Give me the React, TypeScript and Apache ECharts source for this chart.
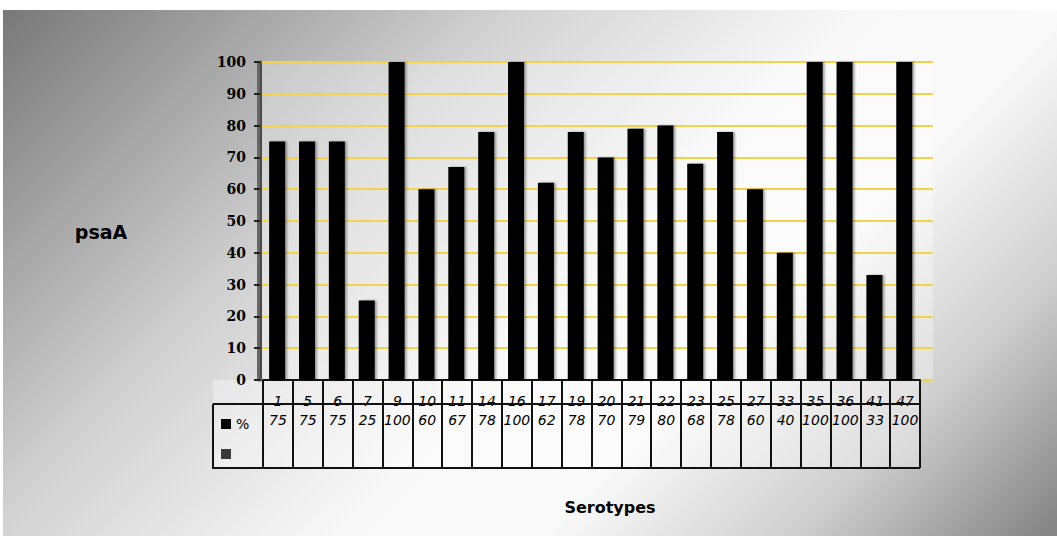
import React, { useEffect, useRef } from "react";
import * as echarts from "echarts";

const categories = ["1", "5", "6", "7", "9", "10", "11", "14", "16", "17", "19", "20", "21", "22", "23", "25", "27", "33", "35", "36", "41", "47"];
const values = [75, 75, 75, 25, 100, 60, 67, 78, 100, 62, 78, 70, 79, 80, 68, 78, 60, 40, 100, 100, 33, 100];
const seriesName = "%";
const yTicks = { min: 0, max: 100, interval: 10 };
const yName = "psaA";
const xName = "Serotypes";

export default function App() {
  const ref = useRef<HTMLDivElement>(null);
  useEffect(() => {
    document.body.style.margin = "0";
    const chart = echarts.init(ref.current!, null, { renderer: "svg" });
    const bg = new echarts.graphic.LinearGradient(0, 0, 790, 790, [
      { offset: 0, color: "#767676" },
      { offset: 0.33, color: "#d2d2d2" },
      { offset: 0.55, color: "#f8f8f8" },
      { offset: 0.68, color: "#fafafa" },
      { offset: 0.84, color: "#cfcfcf" },
      { offset: 1, color: "#858585" },
    ], true);
    chart.setOption({
      animation: false,
      graphic: [
        { type: "rect", z: -10, silent: true, shape: { x: 3, y: 10, width: 1054, height: 526 }, style: { fill: bg } },
        { type: "rect", z: -5, silent: true, shape: { x: 213, y: 380, width: 706, height: 88 }, style: { fill: "rgba(255,255,255,0.35)" } },
        { type: "line", z: 5, shape: { x1: 213, y1: 404, x2: 920, y2: 404 }, style: { stroke: "#111", lineWidth: 2 } },
        { type: "line", z: 5, shape: { x1: 212, y1: 468, x2: 920, y2: 468 }, style: { stroke: "#111", lineWidth: 2 } },
        { type: "line", z: 5, shape: { x1: 213, y1: 404, x2: 213, y2: 469 }, style: { stroke: "#111", lineWidth: 2 } },
        { type: "text", x: 101, y: 232, style: { text: yName, fontSize: 19, fontWeight: "bold", fontFamily: "DejaVu Sans", fill: "#000", align: "center", verticalAlign: "middle" } },
        { type: "text", x: 610, y: 507, style: { text: xName, fontSize: 16, fontWeight: "bold", fontFamily: "DejaVu Sans", fill: "#000", align: "center", verticalAlign: "middle" } },
      ],
      legend: {
        orient: "vertical",
        left: 216,
        top: 412,
        itemWidth: 10,
        itemHeight: 10,
        itemGap: 16,
        icon: "rect",
        data: [seriesName, " "],
        textStyle: { fontSize: 14, lineHeight: 14, color: "#000", fontFamily: "DejaVu Sans" },
      },
      grid: [
        { left: 263, right: 137, top: 62, bottom: 156 },
        { left: 258, right: 124, top: 62, bottom: 156, show: true, backgroundColor: "rgba(255,255,255,0.3)", borderWidth: 0 },
      ],
      xAxis: [
        {
          type: "category",
          gridIndex: 0,
          data: categories,
          axisLine: { show: true, lineStyle: { color: "#111", width: 2 } },
          axisTick: { show: true, length: 88, interval: 0, alignWithLabel: false, lineStyle: { color: "#111", width: 2 } },
          axisLabel: {
            interval: 0,
            margin: 12,
            formatter: (v: string, i: number) => `{c|${v}}\n{v|${values[i]}}`,
            rich: {
              c: { fontSize: 14, lineHeight: 18, color: "#000", fontFamily: "DejaVu Sans", fontStyle: "italic" },
              v: { fontSize: 14, lineHeight: 20, color: "#000", fontFamily: "DejaVu Sans", fontStyle: "italic" },
            },
          },
        },
        { type: "value", gridIndex: 1, show: false, min: 0, max: 1 },
      ],
      yAxis: [
        {
          type: "value",
          gridIndex: 0,
          ...yTicks,
          offset: 3,
          axisLine: { show: true, lineStyle: { color: "#4a4a4a", width: 3 } },
          axisTick: { show: true, length: 6, lineStyle: { color: "#222", width: 2 } },
          axisLabel: { fontSize: 14, fontWeight: "bold", color: "#000", margin: 14, fontFamily: "DejaVu Serif" },
          splitLine: { show: false },
        },
        {
          type: "value",
          gridIndex: 1,
          ...yTicks,
          position: "right",
          axisLine: { show: true, lineStyle: { color: "#666", width: 3 } },
          axisTick: { show: false },
          axisLabel: { show: false },
          splitLine: { show: true, lineStyle: { color: "#f3d34a", width: 2 } },
        },
      ],
      series: [
        {
          name: seriesName,
          type: "bar",
          xAxisIndex: 0,
          yAxisIndex: 0,
          data: values,
          barWidth: 16,
          itemStyle: { color: "#050505", shadowColor: "rgba(0,0,0,0.35)", shadowOffsetX: 2, shadowBlur: 2 },
        },
        {
          name: " ",
          type: "bar",
          xAxisIndex: 0,
          yAxisIndex: 0,
          data: [],
          itemStyle: { color: "#3a3a3a" },
        },
      ],
    });
    return () => chart.dispose();
  }, []);
  return <div ref={ref} style={{ width: 1057, height: 536 }} />;
}
